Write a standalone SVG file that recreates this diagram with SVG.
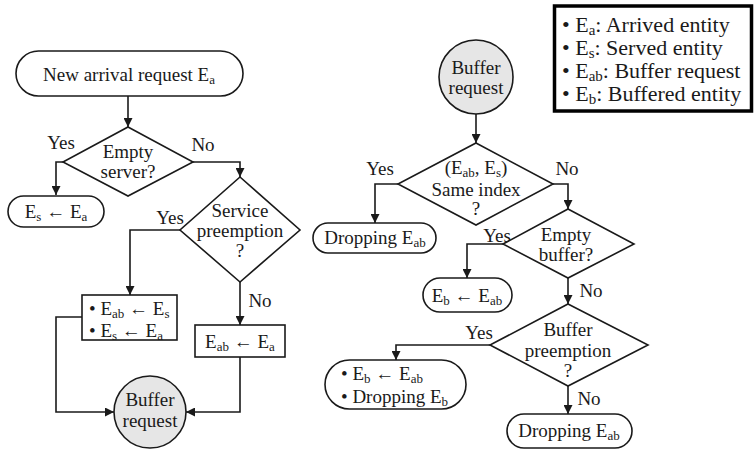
<svg xmlns="http://www.w3.org/2000/svg" width="754" height="451" viewBox="0 0 754 451">
<style>
text{font-family:"Liberation Serif","Times New Roman",serif;font-size:19px;fill:#1a1a1a}
.m{text-anchor:middle}
.s{font-size:13px}
.lg{font-size:22px}
.ls{font-size:15px}
.shape{fill:#fff;stroke:#1a1a1a;stroke-width:1.6}
.circ{fill:#e6e6e6;stroke:#1a1a1a;stroke-width:1.6}
.conn{fill:none;stroke:#1a1a1a;stroke-width:1.6}
.legend{fill:#fff;stroke:#000;stroke-width:3.5}
</style>
<defs>
<marker id="ah" viewBox="0 0 10 10" refX="10" refY="5" markerWidth="9" markerHeight="9" markerUnits="userSpaceOnUse" orient="auto">
<path d="M0,0 L10,5 L0,10 z" fill="#1a1a1a"/>
</marker>
</defs>
<rect width="754" height="451" fill="#fff"/>

<g id="connectors">
<path class="conn" d="M128,96 V127" marker-end="url(#ah)"/>
<path class="conn" d="M63,162 H56 V195" marker-end="url(#ah)"/>
<path class="conn" d="M193,162 H240 V177" marker-end="url(#ah)"/>
<path class="conn" d="M180,230 H130 V295" marker-end="url(#ah)"/>
<path class="conn" d="M240,282 V325" marker-end="url(#ah)"/>
<path class="conn" d="M82,317 H56 V412 H114" marker-end="url(#ah)"/>
<path class="conn" d="M240,357 V412 H186" marker-end="url(#ah)"/>
<path class="conn" d="M476,114 V143" marker-end="url(#ah)"/>
<path class="conn" d="M398,184 H375 V223" marker-end="url(#ah)"/>
<path class="conn" d="M553,184 H568 V209" marker-end="url(#ah)"/>
<path class="conn" d="M503,244 H467 V278" marker-end="url(#ah)"/>
<path class="conn" d="M568,278 V304" marker-end="url(#ah)"/>
<path class="conn" d="M490,345 H396 V360" marker-end="url(#ah)"/>
<path class="conn" d="M568,386 V414" marker-end="url(#ah)"/>
</g>

<g id="labels">
<text class="m" x="61" y="149">Yes</text>
<text class="m" x="203" y="151">No</text>
<text class="m" x="170" y="224">Yes</text>
<text class="m" x="260" y="307">No</text>
<text class="m" x="380" y="175">Yes</text>
<text class="m" x="567" y="175">No</text>
<text class="m" x="497" y="242">Yes</text>
<text class="m" x="591" y="297">No</text>
<text class="m" x="479" y="339">Yes</text>
<text class="m" x="589" y="405">No</text>
</g>

<g id="start">
<rect class="shape" x="16" y="51" width="227" height="45" rx="22.5"/>
<text class="m" x="129" y="81">New arrival request E<tspan class="s" dy="3">a</tspan></text>
</g>

<g id="empty-server">
<polygon class="shape" points="128,127 193,162 128,196 63,162"/>
<text class="m" x="128" y="158">Empty</text>
<text class="m" x="128" y="178">server?</text>
</g>

<g id="es-ea">
<rect class="shape" x="8" y="196" width="96" height="31" rx="15.5"/>
<text class="m" x="56" y="218">E<tspan class="s" dy="3">s</tspan><tspan dy="-3"> ← E</tspan><tspan class="s" dy="3">a</tspan></text>
</g>

<g id="service-preemption">
<polygon class="shape" points="240,177 300,230 240,282 180,230"/>
<text class="m" x="240" y="217">Service</text>
<text class="m" x="240" y="237">preemption</text>
<text class="m" x="240" y="257">?</text>
</g>

<g id="swap-box">
<rect class="shape" x="82" y="295" width="95" height="45"/>
<text x="89" y="315">• E<tspan class="s" dy="3">ab</tspan><tspan dy="-3"> ← E</tspan><tspan class="s" dy="3">s</tspan></text>
<text x="89" y="337">• E<tspan class="s" dy="3">s</tspan><tspan dy="-3"> ← E</tspan><tspan class="s" dy="3">a</tspan></text>
</g>

<g id="eab-ea">
<rect class="shape" x="195" y="325" width="90" height="32"/>
<text class="m" x="240" y="348">E<tspan class="s" dy="3">ab</tspan><tspan dy="-3"> ← E</tspan><tspan class="s" dy="3">a</tspan></text>
</g>

<g id="buffer-request-1">
<circle class="circ" cx="150" cy="412" r="36"/>
<text class="m" x="150" y="406">Buffer</text>
<text class="m" x="150" y="427">request</text>
</g>

<g id="buffer-request-2">
<circle class="circ" cx="476" cy="77" r="37"/>
<text class="m" x="476" y="74">Buffer</text>
<text class="m" x="476" y="94">request</text>
</g>

<g id="same-index">
<polygon class="shape" points="476,143 553,184 476,225 398,184"/>
<text class="m" x="476" y="174">(E<tspan class="s" dy="3">ab</tspan><tspan dy="-3">, E</tspan><tspan class="s" dy="3">s</tspan><tspan dy="-3">)</tspan></text>
<text class="m" x="476" y="196">Same index</text>
<text class="m" x="476" y="215">?</text>
</g>

<g id="dropping-1">
<rect class="shape" x="313" y="223" width="123" height="30" rx="15"/>
<text class="m" x="375" y="244">Dropping E<tspan class="s" dy="3">ab</tspan></text>
</g>

<g id="empty-buffer">
<polygon class="shape" points="568,209 634,244 568,278 503,244"/>
<text class="m" x="566" y="241">Empty</text>
<text class="m" x="566" y="261">buffer?</text>
</g>

<g id="eb-eab">
<rect class="shape" x="423" y="278" width="89" height="34" rx="17"/>
<text class="m" x="467" y="302">E<tspan class="s" dy="3">b</tspan><tspan dy="-3"> ← E</tspan><tspan class="s" dy="3">ab</tspan></text>
</g>

<g id="buffer-preemption">
<polygon class="shape" points="568,304 648,345 568,386 490,345"/>
<text class="m" x="568" y="336">Buffer</text>
<text class="m" x="568" y="357">preemption</text>
<text class="m" x="568" y="377">?</text>
</g>

<g id="replace-drop">
<rect class="shape" x="325" y="360" width="141" height="49" rx="24.5"/>
<text x="341" y="380">• E<tspan class="s" dy="3">b</tspan><tspan dy="-3"> ← E</tspan><tspan class="s" dy="3">ab</tspan></text>
<text x="341" y="403">• Dropping E<tspan class="s" dy="3">b</tspan></text>
</g>

<g id="dropping-2">
<rect class="shape" x="507" y="414" width="125" height="34" rx="17"/>
<text class="m" x="569" y="437">Dropping E<tspan class="s" dy="3">ab</tspan></text>
</g>

<g id="legend">
<rect class="legend" x="554.5" y="6" width="197" height="105"/>
<text class="lg" x="562" y="32">• E<tspan class="ls" dy="3">a</tspan><tspan dy="-3">: Arrived entity</tspan></text>
<text class="lg" x="562" y="55">• E<tspan class="ls" dy="3">s</tspan><tspan dy="-3">: Served entity</tspan></text>
<text class="lg" x="562" y="78">• E<tspan class="ls" dy="3">ab</tspan><tspan dy="-3">: Buffer request</tspan></text>
<text class="lg" x="562" y="101">• E<tspan class="ls" dy="3">b</tspan><tspan dy="-3">: Buffered entity</tspan></text>
</g>
</svg>
